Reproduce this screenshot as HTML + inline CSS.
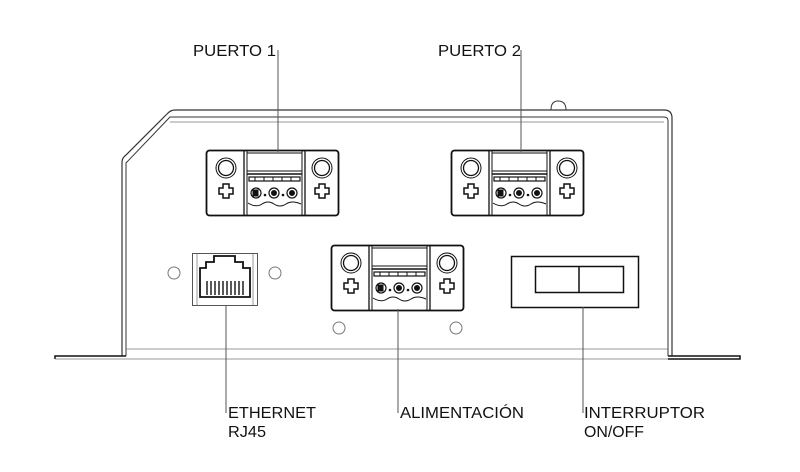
<!DOCTYPE html>
<html><head><meta charset="utf-8"><style>
html,body{margin:0;padding:0;background:#fff;}
svg{display:block;}
text{font-family:"Liberation Sans",sans-serif;font-size:15.5px;fill:#111;}
</style></head><body>
<svg width="800" height="472" viewBox="0 0 800 472" xmlns="http://www.w3.org/2000/svg">
<defs>
<g id="cross">
<path d="M-3,-7 H3 V-3 H7 V3 H3 V7 H-3 V3 H-7 V-3 H-3 Z" fill="none" stroke="#111" stroke-width="1.5"/>
</g>
<g id="conn" fill="none" stroke="#111">
<rect x="0.5" y="0.5" width="132" height="65" rx="3" stroke-width="1.8"/>
<line x1="38" y1="1" x2="38" y2="65" stroke-width="1.3"/>
<line x1="41" y1="1" x2="41" y2="65" stroke-width="1"/>
<line x1="96" y1="1" x2="96" y2="65" stroke-width="1"/>
<line x1="99" y1="1" x2="99" y2="65" stroke-width="1.3"/>
<circle cx="20" cy="18" r="10" stroke-width="1"/>
<circle cx="20" cy="18" r="7.5" stroke-width="1.3"/>
<circle cx="116" cy="18" r="10" stroke-width="1"/>
<circle cx="116" cy="18" r="7.5" stroke-width="1.3"/>
<use href="#cross" x="20" y="41"/>
<use href="#cross" x="116" y="41"/>
<rect x="41" y="3" width="55" height="18" stroke-width="1"/>
<line x1="41" y1="24" x2="96" y2="24" stroke-width="1.5"/>
<rect x="43" y="27" width="51" height="4" stroke-width="1.2"/>
<line x1="49" y1="27" x2="49" y2="31"/><line x1="58" y1="27" x2="58" y2="31"/>
<line x1="67" y1="27" x2="67" y2="31"/><line x1="76" y1="27" x2="76" y2="31"/>
<line x1="85" y1="27" x2="85" y2="31"/>
<circle cx="50" cy="43" r="5" stroke-width="1.2"/><rect x="47" y="40" width="5" height="6" fill="#111"/>
<circle cx="68" cy="43" r="5" stroke-width="1.2"/><circle cx="68" cy="43" r="2.5" fill="#111"/>
<circle cx="86" cy="43" r="5" stroke-width="1.2"/><circle cx="86" cy="43" r="2.5" fill="#111"/>
<circle cx="59" cy="45" r="0.8" fill="#111"/><circle cx="77" cy="45" r="0.8" fill="#111"/>
<path d="M42,53 Q50,58 56,54 Q62,50 68,54 Q74,58 80,54 Q86,50 95,54" stroke-width="1"/>
</g>
</defs>

<g fill="none" stroke="#333">
<path d="M122,356 V162 Q122,158 126,155 L168,113 Q171,110 175,110 H664 Q672,110 672,118 V356" stroke-width="1.2"/>
<path d="M126,356 V163 L170,117 H664 Q668,117 668,121 V356" stroke-width="1"/>
<line x1="170" y1="122" x2="664" y2="122" stroke="#777" stroke-width="0.8"/>
<line x1="126" y1="349" x2="668" y2="349" stroke="#777" stroke-width="0.8"/>
<line x1="126" y1="359" x2="668" y2="359" stroke="#777" stroke-width="0.8"/>
<path d="M55,359 V356 H126" stroke="#111" stroke-width="1.5"/>
<path d="M668,356 H740 V359 H668" stroke="#111" stroke-width="1.5"/>
<line x1="55" y1="359" x2="126" y2="359" stroke="#777" stroke-width="0.8"/>
<path d="M551,110 Q551,101 558,101 Q566,101 566,110" stroke-width="1"/>
</g>

<use href="#conn" x="206" y="150"/>
<use href="#conn" x="451" y="150"/>
<use href="#conn" x="331" y="245"/>

<g fill="none" stroke="#777" stroke-width="1">
<circle cx="174" cy="273" r="6"/><circle cx="275" cy="273" r="6"/>
<circle cx="339" cy="328" r="6"/><circle cx="456" cy="328" r="6"/>
</g>

<g fill="none" stroke="#111">
<rect x="192.5" y="253.5" width="65" height="52" stroke="#555" stroke-width="1"/>
<line x1="197" y1="254" x2="197" y2="305" stroke="#999"/>
<line x1="253" y1="254" x2="253" y2="305" stroke="#999"/>
<path d="M200,297 V268 H206 V262 H214 V256 H235 V262 H243 V268 H250 V297 Z" stroke-width="1.8"/>
<g stroke-width="1.4"><line x1="207" y1="281" x2="207" y2="295"/><line x1="211" y1="281" x2="211" y2="295"/><line x1="215" y1="281" x2="215" y2="295"/><line x1="219" y1="281" x2="219" y2="295"/><line x1="223" y1="281" x2="223" y2="295"/><line x1="227" y1="281" x2="227" y2="295"/><line x1="231" y1="281" x2="231" y2="295"/><line x1="235" y1="281" x2="235" y2="295"/><line x1="239" y1="281" x2="239" y2="295"/><line x1="243" y1="281" x2="243" y2="295"/></g>
</g>

<g fill="none" stroke="#111">
<rect x="511.5" y="256.5" width="127" height="51" stroke-width="1.5"/>
<rect x="535.5" y="266.5" width="88" height="26" stroke-width="1.5"/>
<line x1="579" y1="267" x2="579" y2="292" stroke-width="1.5"/>
</g>

<g stroke="#555" stroke-width="1">
<line x1="278" y1="50" x2="278" y2="152"/>
<line x1="521" y1="50" x2="521" y2="152"/>
<line x1="226" y1="305" x2="226" y2="413"/>
<line x1="398" y1="309" x2="398" y2="413"/>
<line x1="583" y1="307" x2="583" y2="413"/>
</g>

<text x="193" y="56" textLength="83" lengthAdjust="spacingAndGlyphs">PUERTO 1</text>
<text x="438" y="56" textLength="83" lengthAdjust="spacingAndGlyphs">PUERTO 2</text>
<text x="228" y="418" textLength="88" lengthAdjust="spacingAndGlyphs">ETHERNET</text>
<text x="228" y="437" textLength="38" lengthAdjust="spacingAndGlyphs">RJ45</text>
<text x="400" y="418" textLength="124" lengthAdjust="spacingAndGlyphs">ALIMENTACIÓN</text>
<text x="584" y="418" textLength="121" lengthAdjust="spacingAndGlyphs">INTERRUPTOR</text>
<text x="584" y="437" textLength="60" lengthAdjust="spacingAndGlyphs">ON/OFF</text>
</svg>
</body></html>
